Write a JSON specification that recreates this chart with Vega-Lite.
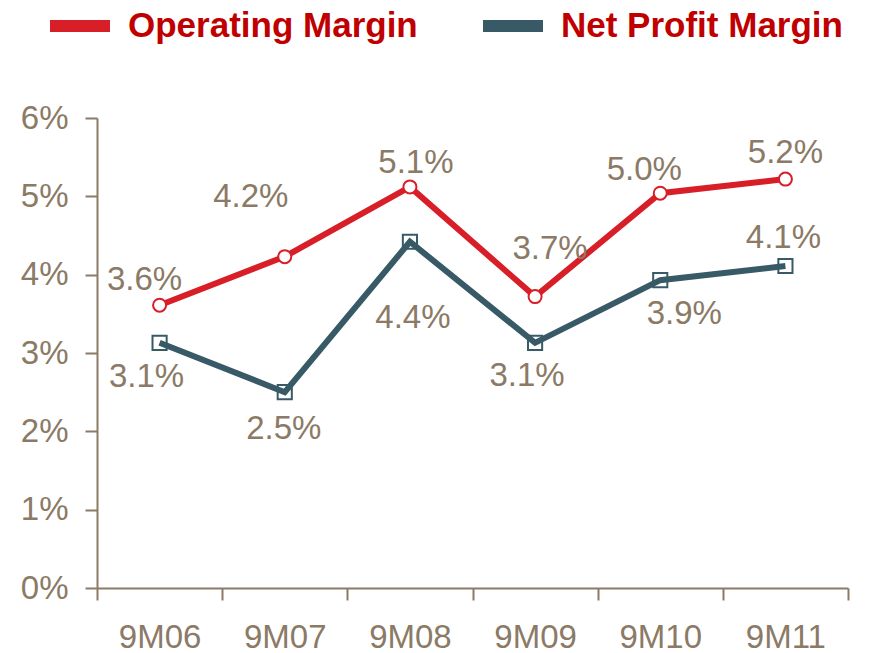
{
  "$schema": "https://vega.github.io/schema/vega-lite/v6.json",
  "width": 751,
  "height": 470,
  "autosize": {"type": "none"},
  "padding": {"left": 97, "top": 118, "right": 29, "bottom": 65},
  "background": "white",
  "config": {
    "view": {"stroke": null},
    "font": "Liberation Sans",
    "axis": {
      "labelFont": "Liberation Sans",
      "labelFontSize": 33,
      "labelColor": "#8B7A66",
      "domainColor": "#8B7A66",
      "tickColor": "#8B7A66",
      "domainWidth": 2,
      "tickWidth": 2,
      "tickSize": 12,
      "grid": false,
      "title": null
    }
  },
  "data": {
    "values": [
      {"period": "9M06", "series": "Operating Margin", "value": 0.0361},
      {"period": "9M07", "series": "Operating Margin", "value": 0.0423},
      {"period": "9M08", "series": "Operating Margin", "value": 0.0512},
      {"period": "9M09", "series": "Operating Margin", "value": 0.0372},
      {"period": "9M10", "series": "Operating Margin", "value": 0.0504},
      {"period": "9M11", "series": "Operating Margin", "value": 0.0522},
      {"period": "9M06", "series": "Net Profit Margin", "value": 0.0313},
      {"period": "9M07", "series": "Net Profit Margin", "value": 0.0250},
      {"period": "9M08", "series": "Net Profit Margin", "value": 0.0442},
      {"period": "9M09", "series": "Net Profit Margin", "value": 0.0313},
      {"period": "9M10", "series": "Net Profit Margin", "value": 0.0393},
      {"period": "9M11", "series": "Net Profit Margin", "value": 0.0411}
    ]
  },
  "encoding": {
    "x": {
      "field": "period", "type": "nominal", "sort": null,
      "scale": {"paddingInner": 0, "paddingOuter": 0},
      "axis": {"labelAngle": 0, "tickBand": "extent", "labelPadding": 21}
    },
    "y": {
      "field": "value", "type": "quantitative",
      "scale": {"domain": [0, 0.06], "nice": false, "zero": true},
      "axis": {"format": ".0%", "values": [0, 0.01, 0.02, 0.03, 0.04, 0.05, 0.06], "labelPadding": 17}
    }
  },
  "layer": [
    {
      "transform": [{"filter": "datum.series === 'Net Profit Margin'"}],
      "mark": {"type": "point", "shape": "square", "size": 200, "filled": false, "fill": "white", "stroke": "#375A66", "strokeWidth": 2, "opacity": 1}
    },
    {
      "mark": {"type": "line", "strokeWidth": 6},
      "encoding": {
        "color": {
          "field": "series", "type": "nominal",
          "scale": {"domain": ["Operating Margin", "Net Profit Margin"], "range": ["#D81E27", "#375A66"]},
          "legend": {
            "orient": "none", "legendX": -53, "legendY": -128, "direction": "horizontal",
            "title": null, "padding": 0,
            "symbolType": "M-1,0H1", "symbolSize": 3600, "symbolStrokeWidth": 12,
            "labelFont": "Liberation Sans", "labelFontWeight": "bold", "labelFontSize": 35,
            "labelColor": "#C00000", "labelOffset": 12, "columnPadding": 41, "labelLimit": 500,
            "encode": {"symbols": {"update": {"strokeWidth": {"value": 12}, "strokeCap": {"value": "butt"}, "opacity": {"value": 1}}}}
          }
        }
      }
    },
    {
      "transform": [{"filter": "datum.series === 'Operating Margin'"}],
      "mark": {"type": "point", "shape": "circle", "size": 170, "filled": false, "fill": "white", "stroke": "#D81E27", "strokeWidth": 2, "opacity": 1}
    },
    {
      "transform": [{"filter": "datum.series === 'Operating Margin' && datum.period === '9M06'"}],
      "mark": {"type": "text", "align": "center", "baseline": "middle", "fontSize": 33, "color": "#8B7A66", "dx": -15, "dy": -25},
      "encoding": {"text": {"field": "value", "type": "quantitative", "format": ".1%"}}
    },
    {
      "transform": [{"filter": "datum.series === 'Operating Margin' && datum.period === '9M07'"}],
      "mark": {"type": "text", "align": "center", "baseline": "middle", "fontSize": 33, "color": "#8B7A66", "dx": -34, "dy": -60},
      "encoding": {"text": {"field": "value", "type": "quantitative", "format": ".1%"}}
    },
    {
      "transform": [{"filter": "datum.series === 'Operating Margin' && datum.period === '9M08'"}],
      "mark": {"type": "text", "align": "center", "baseline": "middle", "fontSize": 33, "color": "#8B7A66", "dx": 6, "dy": -24},
      "encoding": {"text": {"field": "value", "type": "quantitative", "format": ".1%"}}
    },
    {
      "transform": [{"filter": "datum.series === 'Operating Margin' && datum.period === '9M09'"}],
      "mark": {"type": "text", "align": "center", "baseline": "middle", "fontSize": 33, "color": "#8B7A66", "dx": 15, "dy": -48},
      "encoding": {"text": {"field": "value", "type": "quantitative", "format": ".1%"}}
    },
    {
      "transform": [{"filter": "datum.series === 'Operating Margin' && datum.period === '9M10'"}],
      "mark": {"type": "text", "align": "center", "baseline": "middle", "fontSize": 33, "color": "#8B7A66", "dx": -16, "dy": -23},
      "encoding": {"text": {"field": "value", "type": "quantitative", "format": ".1%"}}
    },
    {
      "transform": [{"filter": "datum.series === 'Operating Margin' && datum.period === '9M11'"}],
      "mark": {"type": "text", "align": "center", "baseline": "middle", "fontSize": 33, "color": "#8B7A66", "dx": 0, "dy": -26},
      "encoding": {"text": {"field": "value", "type": "quantitative", "format": ".1%"}}
    },
    {
      "transform": [{"filter": "datum.series === 'Net Profit Margin' && datum.period === '9M06'"}],
      "mark": {"type": "text", "align": "center", "baseline": "middle", "fontSize": 33, "color": "#8B7A66", "dx": -13, "dy": 34},
      "encoding": {"text": {"field": "value", "type": "quantitative", "format": ".1%"}}
    },
    {
      "transform": [{"filter": "datum.series === 'Net Profit Margin' && datum.period === '9M07'"}],
      "mark": {"type": "text", "align": "center", "baseline": "middle", "fontSize": 33, "color": "#8B7A66", "dx": -1, "dy": 37},
      "encoding": {"text": {"field": "value", "type": "quantitative", "format": ".1%"}}
    },
    {
      "transform": [{"filter": "datum.series === 'Net Profit Margin' && datum.period === '9M08'"}],
      "mark": {"type": "text", "align": "center", "baseline": "middle", "fontSize": 33, "color": "#8B7A66", "dx": 3, "dy": 76},
      "encoding": {"text": {"field": "value", "type": "quantitative", "format": ".1%"}}
    },
    {
      "transform": [{"filter": "datum.series === 'Net Profit Margin' && datum.period === '9M09'"}],
      "mark": {"type": "text", "align": "center", "baseline": "middle", "fontSize": 33, "color": "#8B7A66", "dx": -8, "dy": 33},
      "encoding": {"text": {"field": "value", "type": "quantitative", "format": ".1%"}}
    },
    {
      "transform": [{"filter": "datum.series === 'Net Profit Margin' && datum.period === '9M10'"}],
      "mark": {"type": "text", "align": "center", "baseline": "middle", "fontSize": 33, "color": "#8B7A66", "dx": 24, "dy": 34},
      "encoding": {"text": {"field": "value", "type": "quantitative", "format": ".1%"}}
    },
    {
      "transform": [{"filter": "datum.series === 'Net Profit Margin' && datum.period === '9M11'"}],
      "mark": {"type": "text", "align": "center", "baseline": "middle", "fontSize": 33, "color": "#8B7A66", "dx": -2, "dy": -28},
      "encoding": {"text": {"field": "value", "type": "quantitative", "format": ".1%"}}
    }
  ]
}
